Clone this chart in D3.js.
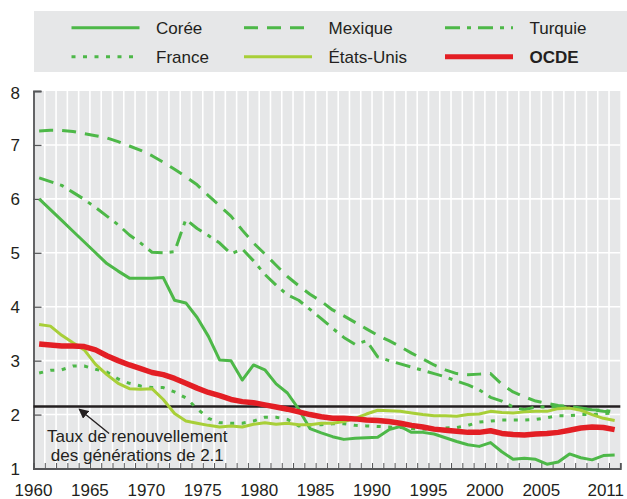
<!DOCTYPE html>
<html><head><meta charset="utf-8">
<script src="https://cdn.jsdelivr.net/npm/d3@7/dist/d3.min.js"></script>
<style>
html,body{margin:0;padding:0;background:#fff;}
svg text{font-family:"Liberation Sans",Arial,sans-serif;fill:#231f20;}
</style></head>
<body>
<svg id="chart" width="627" height="499"></svg>
<script>
const years = d3.range(1960, 2012);
const xTickLabels = [1960,1965,1970,1975,1980,1985,1990,1995,2000,2005,2011];
const yTickLabels = [1,2,3,4,5,6,7,8];
const replacementRate = 2.15;
const seriesNames = ["Corée","Mexique","Turquie","France","États-Unis","OCDE"];

const korea = [6.0,5.8,5.6,5.4,5.2,5.0,4.8,4.66,4.53,4.53,4.53,4.54,4.12,4.07,3.8,3.45,3.01,3.0,2.64,2.92,2.83,2.57,2.4,2.1,1.74,1.66,1.59,1.54,1.56,1.57,1.58,1.72,1.78,1.67,1.67,1.64,1.57,1.5,1.44,1.41,1.48,1.31,1.17,1.19,1.17,1.08,1.12,1.27,1.2,1.16,1.24,1.25];
const mexico = [7.26,7.27,7.27,7.25,7.21,7.17,7.13,7.06,6.98,6.9,6.8,6.68,6.55,6.41,6.26,6.06,5.87,5.68,5.42,5.18,4.98,4.77,4.56,4.39,4.23,4.1,3.94,3.83,3.71,3.59,3.47,3.37,3.26,3.14,3.03,2.92,2.83,2.76,2.74,2.75,2.76,2.56,2.42,2.33,2.25,2.21,2.17,2.15,2.12,2.09,2.06,2.05];
const turkey = [6.39,6.32,6.25,6.12,5.99,5.84,5.68,5.52,5.33,5.18,5.01,5.0,5.02,5.62,5.45,5.32,5.18,4.98,5.07,4.85,4.6,4.4,4.22,4.12,3.95,3.78,3.6,3.43,3.3,3.37,3.07,3.0,2.94,2.88,2.82,2.76,2.7,2.62,2.55,2.46,2.32,2.25,2.14,2.09,2.14,2.14,2.14,2.13,2.11,2.09,2.08,2.05];
const france = [2.77,2.82,2.83,2.9,2.9,2.84,2.79,2.66,2.58,2.53,2.5,2.5,2.42,2.31,2.11,1.93,1.85,1.84,1.84,1.88,1.95,1.95,1.91,1.79,1.81,1.81,1.83,1.83,1.8,1.79,1.78,1.77,1.76,1.74,1.73,1.73,1.75,1.76,1.8,1.86,1.88,1.9,1.9,1.9,1.91,1.94,1.98,1.98,2.0,2.0,2.02,2.03];
const usa = [3.67,3.64,3.47,3.33,3.2,2.93,2.74,2.58,2.48,2.47,2.48,2.28,2.02,1.88,1.84,1.8,1.77,1.79,1.77,1.82,1.85,1.82,1.84,1.81,1.81,1.84,1.84,1.87,1.93,2.01,2.08,2.07,2.06,2.03,2.0,1.98,1.98,1.97,2.0,2.01,2.06,2.04,2.03,2.05,2.06,2.06,2.11,2.12,2.08,2.0,1.93,1.89];
const oecd = [3.31,3.29,3.27,3.27,3.26,3.2,3.09,3.0,2.92,2.85,2.78,2.74,2.67,2.58,2.49,2.41,2.35,2.28,2.24,2.22,2.18,2.14,2.1,2.05,2.0,1.96,1.93,1.93,1.92,1.9,1.89,1.87,1.84,1.8,1.77,1.73,1.71,1.69,1.67,1.67,1.7,1.65,1.63,1.62,1.64,1.65,1.67,1.71,1.75,1.77,1.76,1.72];

const GREEN = "#4db848", LIME = "#a8cf38", RED = "#e31e24", GRAY = "#e6e7e8", AXIS = "#555658";
const styles = [
  {data: korea, color: GREEN, width: 3, dash: null},
  {data: mexico, color: GREEN, width: 3, dash: "14,9"},
  {data: turkey, color: GREEN, width: 3, dash: "15,7,4,7"},
  {data: france, color: GREEN, width: 3, dash: "4,7.5"},
  {data: usa, color: LIME, width: 3, dash: null},
  {data: oecd, color: RED, width: 5.5, dash: null}
];

const FS = 17;
const svg = d3.select("#chart");
const x = d3.scaleLinear().domain([1960, 2012]).range([33.5, 620.3]);
const y = d3.scaleLinear().domain([1, 8]).range([468.5, 91]);

// Legend
const lg = svg.append("g");
lg.append("rect").attr("x", 34).attr("y", 11).attr("width", 593).attr("height", 61).attr("fill", GRAY);
const colX = [71.5, 244, 445];
const rowY = [27.7, 56.7];
styles.forEach((s, i) => {
  const cx = colX[i % 3], cy = rowY[Math.floor(i / 3)];
  lg.append("line").attr("x1", cx).attr("x2", cx + 68).attr("y1", cy).attr("y2", cy)
    .attr("stroke", s.color).attr("stroke-width", i === 5 ? 5 : 3)
    .attr("stroke-dasharray", s.dash);
  lg.append("text").attr("x", cx + 84.5).attr("y", cy + 6)
    .attr("font-size", FS)
    .attr("font-weight", i === 5 ? "bold" : null)
    .text(seriesNames[i]);
});

// Plot background
svg.append("rect").attr("x", x(1960)).attr("y", y(8)).attr("width", x(2012) - x(1960)).attr("height", y(1) - y(8)).attr("fill", GRAY);

// Gridlines
svg.append("g").selectAll("line").data(years.slice(1)).join("line")
  .attr("x1", d => x(d)).attr("x2", d => x(d)).attr("y1", y(8)).attr("y2", y(1))
  .attr("stroke", "#fff").attr("stroke-width", 1.6);
svg.append("g").selectAll("line").data(yTickLabels.filter(v => v > 1 && v < 8)).join("line")
  .attr("x1", x(1960)).attr("x2", x(2012)).attr("y1", d => y(d)).attr("y2", d => y(d))
  .attr("stroke", "#fff").attr("stroke-width", 1.6);

// Axes
const gx = svg.append("g").attr("transform", `translate(0,${y(1)})`)
  .call(d3.axisBottom(x).tickValues(d3.range(1960, 2013)).tickSize(-5.5).tickFormat(""));
gx.select(".domain").attr("stroke", AXIS).attr("stroke-width", 1.8);
gx.selectAll(".tick line").attr("stroke", AXIS).attr("stroke-width", 1);
svg.append("g").selectAll("text").data(xTickLabels).join("text")
  .attr("x", (d, i) => i === xTickLabels.length - 1 ? 624 : x(d))
  .attr("y", 496)
  .attr("text-anchor", (d, i) => i === xTickLabels.length - 1 ? "end" : "middle")
  .attr("font-size", FS).text(d => d);

const gy = svg.append("g").attr("transform", `translate(${x(1960)},0)`)
  .call(d3.axisLeft(y).tickValues(yTickLabels).tickSize(-8).tickFormat(""));
gy.select(".domain").attr("stroke", AXIS).attr("stroke-width", 1.8);
gy.selectAll(".tick line").attr("stroke", AXIS).attr("stroke-width", 1.3);
svg.append("g").selectAll("text").data(yTickLabels).join("text")
  .attr("x", 20).attr("y", d => y(d) + 6 + (d === 8 ? 2 : 0)).attr("text-anchor", "end")
  .attr("font-size", FS).text(d => d);

// Replacement rate line
svg.append("line").attr("x1", x(1960)).attr("x2", x(2012)).attr("y1", y(replacementRate)).attr("y2", y(replacementRate))
  .attr("stroke", "#231f20").attr("stroke-width", 2.4);

// Series
const line = d3.line().x((d, i) => x(years[i] + 0.5)).y(d => y(d));
styles.forEach(s => {
  svg.append("path").datum(s.data).attr("d", line).attr("fill", "none")
    .attr("stroke", s.color).attr("stroke-width", s.width)
    .attr("stroke-dasharray", s.dash).attr("stroke-linejoin", "round");
});

// Annotation
svg.append("defs").append("marker").attr("id", "ah").attr("viewBox", "0 0 10 10")
  .attr("refX", 9).attr("refY", 5).attr("markerWidth", 10).attr("markerHeight", 10)
  .attr("markerUnits", "userSpaceOnUse").attr("orient", "auto")
  .append("path").attr("d", "M0,0 L10,5 L0,10 z").attr("fill", "#231f20");
svg.append("line").attr("x1", x(1966.7)).attr("y1", y(1.65)).attr("x2", x(1964.05)).attr("y2", y(2.1))
  .attr("stroke", "#231f20").attr("stroke-width", 1.4).attr("marker-end", "url(#ah)");
const ann = svg.append("text").attr("text-anchor", "middle").attr("font-size", FS);
ann.append("tspan").attr("x", x(1969.2)).attr("y", y(1.49)).text("Taux de renouvellement");
ann.append("tspan").attr("x", x(1969.2)).attr("y", y(1.13)).text("des générations de 2.1");
</script>
</body></html>
